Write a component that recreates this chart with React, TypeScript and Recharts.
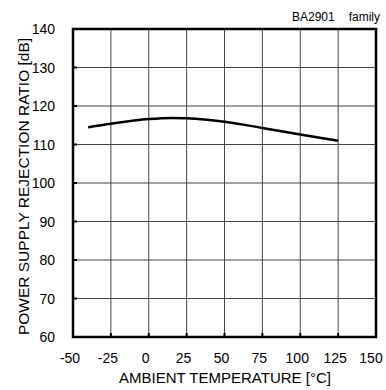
import { LineChart, Line, XAxis, YAxis, CartesianGrid, ReferenceArea } from "recharts"

const temperatures = [-40, -25, 0, 15, 25, 50, 75, 100, 125]
const psrr = [114.5, 115.4, 116.6, 116.9, 116.8, 115.9, 114.3, 112.6, 111.0]
const xTicks = [-50, -25, 0, 25, 50, 75, 100, 125, 150]
const yTicks = [60, 70, 80, 90, 100, 110, 120, 130, 140]

const chartData = temperatures.map((t, i) => ({ temp: t, psrr: psrr[i] }))

const font = "'Liberation Sans', Arial, sans-serif"

// eslint-disable-next-line @typescript-eslint/no-explicit-any
function XTick(props: any) {
  const { x, y, payload } = props
  return (
    <text x={x - 3} y={y} dy="0.71em" textAnchor="middle" fontSize={14} fontFamily={font} fill="#000">
      {payload.value}
    </text>
  )
}

// eslint-disable-next-line @typescript-eslint/no-explicit-any
function YTick(props: any) {
  const { x, y, payload } = props
  return (
    <text x={x} y={y} dy="0.36em" textAnchor="end" fontSize={14} fontFamily={font} fill="#000">
      {payload.value}
    </text>
  )
}

export default function App() {
  return (
    <div style={{ position: "absolute", left: 0, top: 0, width: 386, height: 390, background: "#fff" }}>
      <LineChart width={386} height={390} data={chartData} margin={{ top: 29, right: 10, left: 13, bottom: 23 }}>
        <CartesianGrid stroke="#444" strokeWidth={1} />
        <XAxis
          dataKey="temp"
          type="number"
          domain={[-50, 150]}
          ticks={xTicks}
          height={30}
          axisLine={false}
          tickSize={-4}
          tickMargin={20}
          tickLine={{ stroke: "#000", strokeWidth: 2 }}
          tick={<XTick />}
        />
        <YAxis
          type="number"
          domain={[60, 140]}
          ticks={yTicks}
          width={60}
          axisLine={false}
          tickSize={-4}
          tickMargin={22}
          tickLine={{ stroke: "#000", strokeWidth: 2 }}
          tick={<YTick />}
        />
        <Line type="monotone" dataKey="psrr" stroke="#000" strokeWidth={2.5} dot={false} isAnimationActive={false} />
        <ReferenceArea x1={-50} x2={150} y1={60} y2={140} fill="none" stroke="#000" strokeWidth={2.5} />
      </LineChart>
      <svg width={386} height={390} style={{ position: "absolute", left: 0, top: 0, pointerEvents: "none" }}>
        <text x={292} y={21} fontSize={12} fontFamily={font} fill="#000">BA2901</text>
        <text x={380} y={21} fontSize={12} fontFamily={font} fill="#000" textAnchor="end">family</text>
        <text x={225} y={382.5} fontSize={15} fontFamily={font} fill="#000" textAnchor="middle">
          AMBIENT TEMPERATURE [°C]
        </text>
        <text
          x={29}
          y={186.5}
          fontSize={15.5}
          fontFamily={font}
          fill="#000"
          textAnchor="middle"
          transform="rotate(-90 29 186.5)"
        >
          POWER SUPPLY REJECTION RATIO [dB]
        </text>
      </svg>
    </div>
  )
}
